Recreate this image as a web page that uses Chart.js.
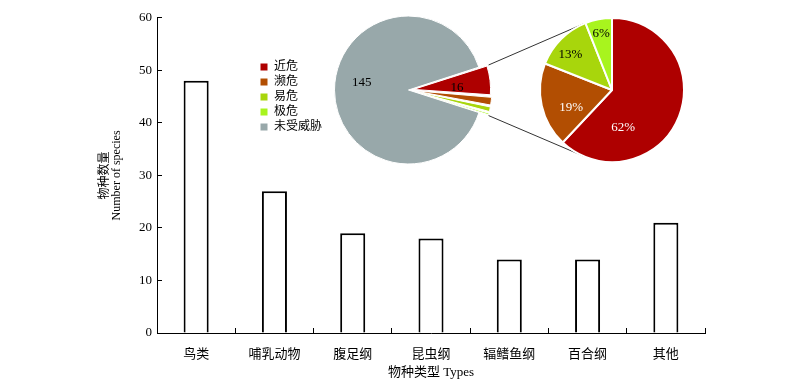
<!DOCTYPE html>
<html>
<head>
<meta charset="utf-8">
<script src="https://cdn.jsdelivr.net/npm/chart.js@4.4.1/dist/chart.umd.min.js"></script>
<style>
  html, body { margin: 0; padding: 0; background: #fff; }
  #wrap { position: relative; width: 800px; height: 390px; }
  canvas { position: absolute; }
</style>
</head>
<body>
<div id="wrap">
  <canvas id="bars" width="800" height="390" style="left:0px;top:0px"></canvas>
  <canvas id="pieAll" width="266" height="180" style="left:257px;top:0px"></canvas>
  <canvas id="pieThreat" width="164" height="180" style="left:530px;top:0px"></canvas>
</div>
<script>
// bar chart data
const categories = ['鸟类', '哺乳动物', '腹足纲', '昆虫纲', '辐鳍鱼纲', '百合纲', '其他'];
const speciesCounts = [48, 27, 19, 18, 14, 14, 21];
const yTicks = [0, 10, 20, 30, 40, 50, 60];

// pie data
const statusLabels = ['近危', '濒危', '易危', '极危', '未受威胁'];
const statusCounts = [10, 3, 2, 1, 145];
const threatPercent = [62, 19, 13, 6];
const statusColors = ['#ae0000', '#b24e02', '#a8d60c', '#a8f41e', '#98a8aa'];

const SERIF = "'Liberation Serif', 'Noto Sans CJK SC', serif";
Chart.defaults.font.family = SERIF;
Chart.defaults.color = '#000';

const pieAllPos = { left: 257, top: 0 };
const pieThreatPos = { left: 530, top: 0 };

// draws text on slices, at the mid angle of each arc
const sliceLabels = {
  id: 'sliceLabels',
  afterDatasetsDraw(chart, args, opts) {
    const ctx = chart.ctx;
    const arcs = chart.getDatasetMeta(0).data;
    ctx.save();
    ctx.font = '13px ' + SERIF;
    ctx.textAlign = 'center';
    ctx.textBaseline = 'middle';
    arcs.forEach((arc, i) => {
      const text = opts.texts[i];
      if (!text) return;
      const off = (arc.options.offset || 0) / 2;
      const mid = (arc.startAngle + arc.endAngle) / 2;
      const a = mid + (opts.turn[i] || 0);
      const r = arc.outerRadius * opts.radius[i];
      const x = arc.x + Math.cos(mid) * off + Math.cos(a) * r;
      const y = arc.y + Math.sin(mid) * off + Math.sin(a) * r;
      ctx.fillStyle = opts.colors[i];
      ctx.fillText(text, x, y);
    });
    ctx.restore();
  }
};

const threatTotal = statusCounts.slice(0, 4).reduce((s, v) => s + v, 0);

const pieAll = new Chart(document.getElementById('pieAll'), {
  type: 'pie',
  data: {
    labels: statusLabels,
    datasets: [{
      data: statusCounts,
      backgroundColor: statusColors,
      borderColor: '#fff',
      borderWidth: 1,
      offset: [20, 20, 20, 20, 0],
      radius: 74,
      clip: false
    }]
  },
  plugins: [sliceLabels],
  options: {
    responsive: false,
    animation: false,
    rotation: 72,
    layout: { padding: { right: 38 } },
    plugins: {
      tooltip: { enabled: false },
      legend: {
        position: 'left',
        // empty title only pushes the items a little lower
        title: { display: true, text: '', font: { size: 10 }, padding: 1 },
        labels: { boxWidth: 8, boxHeight: 8, padding: 3, font: { size: 12 }, color: '#000' }
      },
      sliceLabels: {
        texts: [String(threatTotal), '', '', '', String(statusCounts[4])],
        colors: ['#000', '#000', '#000', '#000', '#000'],
        radius: [0.52, 0, 0, 0, 0.64],
        turn: [0.09, 0, 0, 0, 0.17]
      }
    }
  }
});

const pieThreat = new Chart(document.getElementById('pieThreat'), {
  type: 'pie',
  data: {
    labels: statusLabels.slice(0, 4),
    datasets: [{
      data: threatPercent,
      backgroundColor: statusColors.slice(0, 4),
      borderColor: '#fff',
      borderWidth: 2,
      radius: 72,
      clip: false
    }]
  },
  plugins: [sliceLabels],
  options: {
    responsive: false,
    animation: false,
    plugins: {
      tooltip: { enabled: false },
      legend: { display: false },
      sliceLabels: {
        texts: threatPercent.map(v => v + '%'),
        colors: ['#fff', '#fff', '#000', '#000'],
        radius: [0.54, 0.62, 0.76, 0.8],
        turn: [0.9, -0.19, -0.08, 0]
      }
    }
  }
});

// tangent from an outer corner of the exploded wedge to the detail pie
function wedgeCorner(index, useStart) {
  const arc = pieAll.getDatasetMeta(0).data[index];
  const off = (arc.options.offset || 0) / 4;
  const mid = (arc.startAngle + arc.endAngle) / 2;
  const a = useStart ? arc.startAngle : arc.endAngle;
  const r = arc.outerRadius + off;
  return {
    x: pieAllPos.left + arc.x + Math.cos(mid) * off + Math.cos(a) * r,
    y: pieAllPos.top + arc.y + Math.sin(mid) * off + Math.sin(a) * r
  };
}

function tangentPoint(p, upper) {
  const arc = pieThreat.getDatasetMeta(0).data[0];
  const c = { x: pieThreatPos.left + arc.x, y: pieThreatPos.top + arc.y };
  const r = arc.outerRadius;
  const d = Math.hypot(p.x - c.x, p.y - c.y);
  const base = Math.atan2(p.y - c.y, p.x - c.x);
  const t = Math.acos(r / d);
  const pts = [base + t, base - t].map(a => ({ x: c.x + Math.cos(a) * r, y: c.y + Math.sin(a) * r }));
  pts.sort((m, n) => m.y - n.y);
  return upper ? pts[0] : pts[1];
}

const connectors = {
  id: 'connectors',
  afterDraw(chart) {
    const ctx = chart.ctx;
    const top = wedgeCorner(0, true);
    const bottom = wedgeCorner(3, false);
    const t1 = tangentPoint(top, true);
    const t2 = tangentPoint(bottom, false);
    ctx.save();
    ctx.strokeStyle = '#333';
    ctx.lineWidth = 1;
    ctx.beginPath();
    ctx.moveTo(top.x, top.y);
    ctx.lineTo(t1.x, t1.y);
    ctx.moveTo(bottom.x, bottom.y);
    ctx.lineTo(t2.x, t2.y);
    ctx.stroke();
    ctx.restore();
  }
};

new Chart(document.getElementById('bars'), {
  type: 'bar',
  data: {
    labels: categories,
    datasets: [{
      data: speciesCounts,
      backgroundColor: '#fff',
      borderColor: '#000',
      borderWidth: 2,
      barPercentage: 0.32,
      categoryPercentage: 1
    }]
  },
  plugins: [connectors],
  options: {
    responsive: false,
    animation: false,
    layout: { padding: { left: 96, right: 95, top: 15, bottom: 0 } },
    plugins: { legend: { display: false }, tooltip: { enabled: false } },
    scales: {
      x: {
        afterFit(s) { s.height = 57; },
        grid: { drawOnChartArea: false, tickLength: -5, color: '#000' },
        border: { color: '#000', width: 1 },
        ticks: { padding: 19, font: { size: 13 }, color: '#000' },
        title: { display: true, text: '物种类型 Types', font: { size: 13 }, color: '#000', padding: { top: 0, bottom: 10 } }
      },
      y: {
        min: 0,
        max: 60,
        afterFit(s) { s.width = 61; },
        afterBuildTicks(s) { s.ticks = yTicks.map(v => ({ value: v })); },
        grid: { drawOnChartArea: false, tickLength: -5, color: '#000' },
        border: { color: '#000', width: 1 },
        ticks: { padding: 10, font: { size: 13 }, color: '#000' },
        title: { display: true, text: ['物种数量', 'Number of species'], font: { size: 12, lineHeight: 1.0 }, color: '#000', padding: { top: 3 } }
      }
    }
  }
});
</script>
</body>
</html>
